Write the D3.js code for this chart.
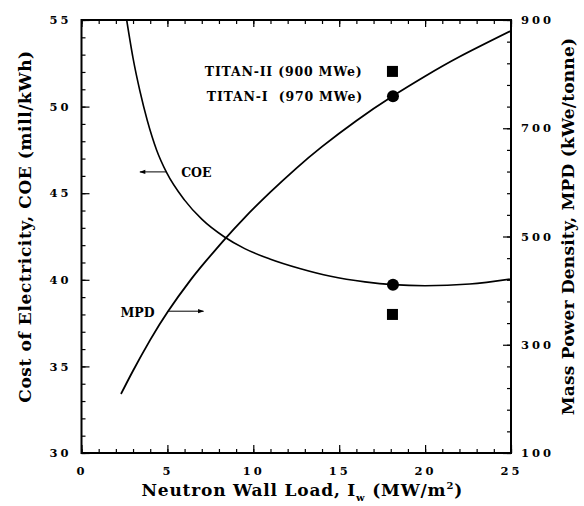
<!DOCTYPE html>
<html lang="en">
<head>
<meta charset="utf-8">
<title>COE and MPD vs wall load</title>
<script src="https://cdn.jsdelivr.net/npm/d3@7"></script>
<style>
  html, body { margin: 0; padding: 0; background: #fff; }
  svg { display: block; }
  text { font-family: "DejaVu Serif", "Liberation Serif", serif; font-weight: bold; fill: #000; }
  .tick text { font-size: 11.5px; letter-spacing: 3px; }
  .axis path { display: none; }
  .axis line { stroke: #000; stroke-width: 1.2; }
</style>
</head>
<body>
<script>
// cost of electricity (left axis)
var coeX = [2.63, 3.0, 3.4, 3.83, 4.37, 4.95, 6, 7, 8.28, 9.5, 10.96, 12.7, 14.5, 16.5, 18.13, 20, 22.6, 25];
var coeY = [55, 52.8, 50.9, 49.2, 47.5, 46.2, 44.6, 43.5, 42.5, 41.8, 41.2, 40.65, 40.2, 39.88, 39.72, 39.66, 39.76, 40.05];
// mass power density (right axis)
var mpdX = [2.3, 3, 4, 5.04, 6.31, 7.2, 8.28, 9.5, 10.96, 12.5, 14, 16, 18.1, 20, 22, 25];
var mpdY = [209, 252, 309, 362, 418, 453, 493, 535, 581, 626, 666, 714, 759, 796, 832, 880];
// design points
var designs = ["TITAN-II (900 MWe)", "TITAN-I  (970 MWe)"];
var designX = [18.1, 18.13];
var designCOE = [38.0, 39.72];
var designMPD = [805, 759];
var designShape = ["square", "circle"];

var xTicks = [0, 5, 10, 15, 20, 25];
var leftTicks = [30, 35, 40, 45, 50, 55];
var rightTicks = [100, 300, 500, 700, 900];

var W = 584, H = 506;
var m = {top: 20, right: 73, bottom: 53, left: 81.5};
var w = W - m.left - m.right, h = H - m.top - m.bottom;

var svg = d3.select("body").append("svg").attr("width", W).attr("height", H);
var g = svg.append("g").attr("transform", "translate(" + m.left + "," + m.top + ")");

var x = d3.scaleLinear().domain([0, 25]).range([0, w]);
var yL = d3.scaleLinear().domain([30, 55]).range([h, 0]);
var yR = d3.scaleLinear().domain([100, 900]).range([h, 0]);

// minor ticks
g.append("g").attr("class", "axis").attr("transform", "translate(0," + h + ")")
  .call(d3.axisBottom(x).tickValues(d3.range(0, 26, 1)).tickSize(-4).tickFormat(""));
g.append("g").attr("class", "axis")
  .call(d3.axisTop(x).tickValues(d3.range(0, 26, 1)).tickSize(-4).tickFormat(""));
g.append("g").attr("class", "axis")
  .call(d3.axisLeft(yL).tickValues(d3.range(30, 56, 1)).tickSize(-4).tickFormat(""));
g.append("g").attr("class", "axis").attr("transform", "translate(" + w + ",0)")
  .call(d3.axisRight(yR).tickValues(d3.range(100, 901, 40)).tickSize(-4).tickFormat(""));

// major ticks with labels
g.append("g").attr("class", "axis").attr("transform", "translate(0," + h + ")")
  .call(d3.axisBottom(x).tickValues(xTicks).tickSize(-8).tickPadding(14));
g.append("g").attr("class", "axis")
  .call(d3.axisTop(x).tickValues(xTicks).tickSize(-7).tickFormat(""));
g.append("g").attr("class", "axis")
  .call(d3.axisLeft(yL).tickValues(leftTicks).tickSize(-8).tickPadding(10));
g.append("g").attr("class", "axis").attr("transform", "translate(" + w + ",0)")
  .call(d3.axisRight(yR).tickValues(rightTicks).tickSize(-8).tickPadding(10));

g.append("rect").attr("width", w).attr("height", h)
  .attr("fill", "none").attr("stroke", "#000").attr("stroke-width", 2);

// curves
var lineL = d3.line().x(function (d) { return x(d[0]); }).y(function (d) { return yL(d[1]); })
  .curve(d3.curveMonotoneX);
var lineR = d3.line().x(function (d) { return x(d[0]); }).y(function (d) { return yR(d[1]); })
  .curve(d3.curveNatural);

g.append("path").datum(d3.zip(coeX, coeY)).attr("d", lineL)
  .attr("fill", "none").attr("stroke", "#000").attr("stroke-width", 1.6);
g.append("path").datum(d3.zip(mpdX, mpdY)).attr("d", lineR)
  .attr("fill", "none").attr("stroke", "#000").attr("stroke-width", 1.8);

// design point markers
designs.forEach(function (name, i) {
  [yL(designCOE[i]), yR(designMPD[i])].forEach(function (py) {
    if (designShape[i] == "circle") {
      g.append("circle").attr("cx", x(designX[i])).attr("cy", py).attr("r", 6).attr("fill", "#000");
    } else {
      g.append("rect").attr("x", x(designX[i]) - 5.5).attr("y", py - 5.5)
        .attr("width", 11).attr("height", 11).attr("fill", "#000");
    }
  });
  g.append("text").attr("x", x(designX[i]) - 30).attr("y", yR(designMPD[i]) + 4.5)
    .attr("text-anchor", "end").style("font-size", "12.5px").style("letter-spacing", "0.8px")
    .style("white-space", "pre").text(name);
});

// arrows
var defs = svg.append("defs");
defs.append("marker").attr("id", "head").attr("viewBox", "0 0 10 10")
  .attr("refX", 9).attr("refY", 5).attr("markerWidth", 9).attr("markerHeight", 6)
  .attr("markerUnits", "userSpaceOnUse").attr("orient", "auto")
  .append("path").attr("d", "M0,1.5L10,5L0,8.5Z").attr("fill", "#000");

g.append("line").attr("x1", x(4.95)).attr("x2", x(3.4)).attr("y1", yL(46.23)).attr("y2", yL(46.23))
  .attr("stroke", "#000").attr("stroke-width", 1).attr("marker-end", "url(#head)");
g.append("text").attr("x", x(5.8)).attr("y", yL(46.23) + 5).style("font-size", "12.5px").text("COE");

g.append("line").attr("x1", x(5.04)).attr("x2", x(7.1)).attr("y1", yR(362)).attr("y2", yR(362))
  .attr("stroke", "#000").attr("stroke-width", 1).attr("marker-end", "url(#head)");
g.append("text").attr("x", x(4.25)).attr("y", yR(362) + 6).attr("text-anchor", "end")
  .style("font-size", "12.5px").text("MPD");

// axis titles
var xt = svg.append("text").attr("x", m.left + w / 2 + 6).attr("y", 496)
  .attr("text-anchor", "middle").style("font-size", "17px").style("letter-spacing", "0.8px");
xt.append("tspan").text("Neutron Wall Load, I");
xt.append("tspan").attr("dy", 5).style("font-size", "10px").text("w");
xt.append("tspan").attr("dy", -5).text(" (MW/m");
xt.append("tspan").attr("dy", -7).style("font-size", "10px").text("2");
xt.append("tspan").attr("dy", 7).text(")");

svg.append("text").attr("transform", "translate(31," + (m.top + h / 2 - 10) + ") rotate(-90)")
  .attr("text-anchor", "middle").style("font-size", "17px").style("letter-spacing", "0.6px")
  .text("Cost of Electricity, COE (mill/kWh)");

svg.append("text").attr("transform", "translate(574," + (m.top + h / 2 - 10) + ") rotate(-90)")
  .attr("text-anchor", "middle").style("font-size", "17px").style("letter-spacing", "0.2px")
  .text("Mass Power Density, MPD (kWe/tonne)");
</script>
</body>
</html>
